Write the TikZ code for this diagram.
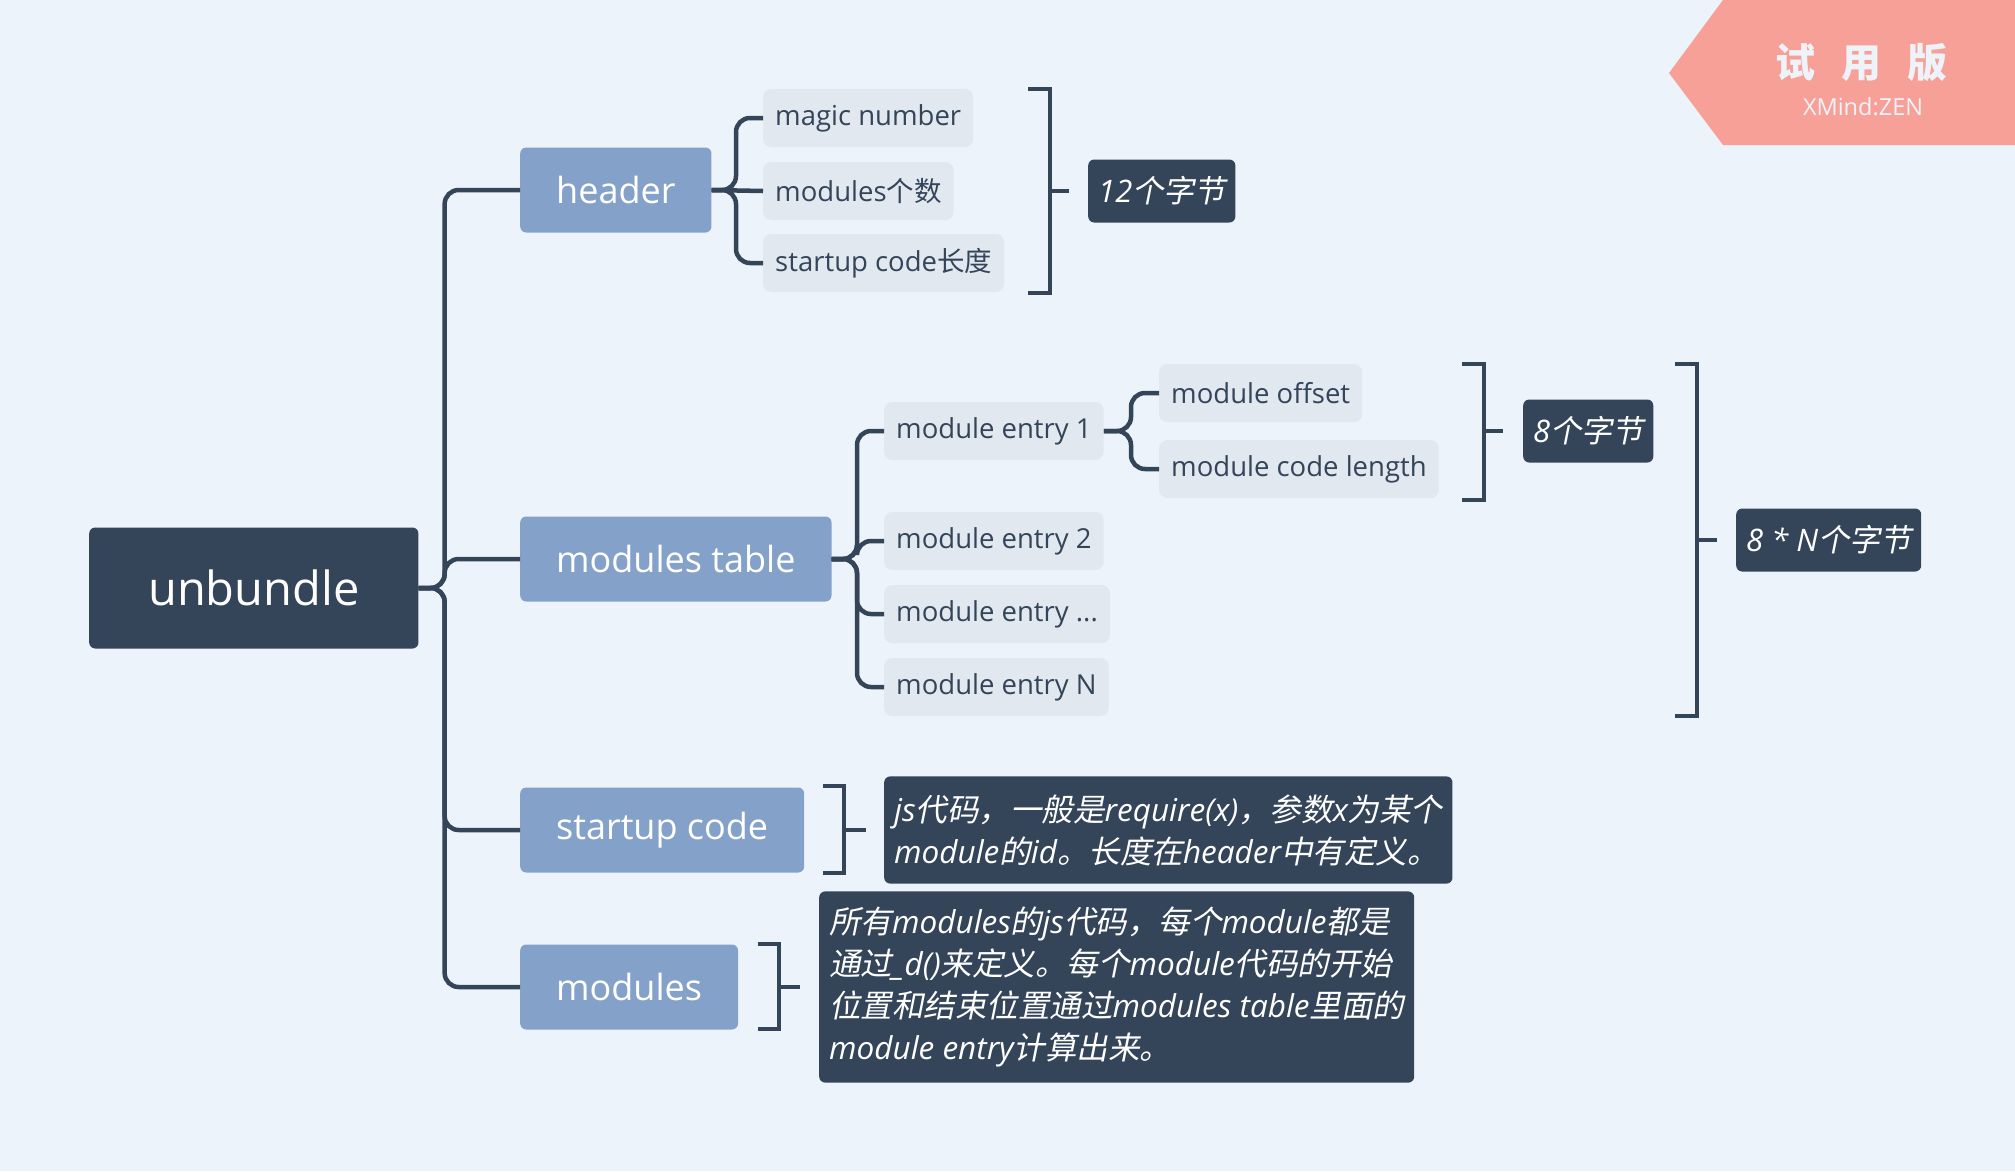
\documentclass[tikz,border=0pt]{standalone}
\usepackage{fontspec}
\setmainfont{Open Sans}
\newfontfamily\zhfont{Noto Sans CJK SC}
\newfontfamily\zhifont[FakeSlant=0.2]{Noto Sans CJK SC}
\newcommand\zh[1]{{\zhfont #1}}
\newcommand\zhi[1]{{\zhifont #1}}
\usetikzlibrary{calc}
\definecolor{bg}{HTML}{EDF3FA}
\definecolor{dk}{HTML}{344459}
\definecolor{bl}{HTML}{84A2C9}
\definecolor{lt}{HTML}{E1E8F0}
\definecolor{wm}{HTML}{F6A097}
\definecolor{wmtext}{HTML}{EEF3FA}
\tikzset{
  rootbox/.style={fill=dk, text=white, rounded corners=6, font=\fontsize{47}{56}\selectfont, inner xsep=59, minimum height=121, anchor=west},
  mainbox/.style={fill=bl, text=white, rounded corners=6, font=\fontsize{36}{44}\selectfont, inner xsep=36, minimum height=85, anchor=west},
  subbox/.style={fill=lt, text=dk, rounded corners=8, font=\fontsize{27.5}{32}\selectfont, inner xsep=12, minimum height=58, anchor=west},
  labbox/.style={fill=dk, text=white, rounded corners=6, font=\itshape\fontsize{31}{36}\selectfont, inner xsep=10, minimum height=63, anchor=west},
  notebox/.style={fill=dk, text=white, rounded corners=6, font=\itshape\fontsize{31.5}{42}\selectfont, inner xsep=10, inner ysep=10, align=left, anchor=west},
  conn/.style={draw=dk, line width=4.5, rounded corners=14},
  brk/.style={draw=dk, line width=4.5},
}
\begin{document}
\begin{tikzpicture}[x=1pt,y=-1pt]
\fill[bg] (0,0) rectangle (2015,1171);
\useasboundingbox (0,0) rectangle (2015,1171);

% watermark
\fill[wm] (1723,0) -- (2015,0) -- (2015,145) -- (1723,145) -- (1669,73) -- cycle;
\node[text=wmtext, font=\zhfont\bfseries\fontsize{40}{44}\selectfont] (wm1) at (1861,63) {试\hspace{26pt}用\hspace{26pt}版};
\node[text=wmtext, font=\fontsize{23.5}{26}\selectfont] (wm2) at (1863,107) {XMind:ZEN};

% nodes
\node[rootbox] (root) at (89,588) {unbundle};
\node[mainbox] (header) at (520,190) {header};
\node[mainbox] (mtable) at (520,559) {modules table};
\node[mainbox] (startup) at (520,830) {startup code};
\node[mainbox] (modules) at (520,987) {modules};

\node[subbox] (magic) at (763,118) {magic number};
\node[subbox] (mcount) at (763,191) {modules\zh{个数}};
\node[subbox] (slen) at (763,263) {startup code\zh{长度}};
\node[labbox] (b12) at (1088,191) {12\zhi{个字节}};

\node[subbox] (me1) at (884,431) {module entry 1};
\node[subbox] (moff) at (1159,393) {module offset};
\node[subbox] (mlen) at (1159,469) {module code length};
\node[labbox] (b8) at (1523,431) {8\zhi{个字节}};
\node[subbox] (me2) at (884,541) {module entry 2};
\node[subbox] (me3) at (884,614) {module entry ...};
\node[subbox] (meN) at (884,687) {module entry N};
\node[labbox] (b8N) at (1736,540) {8 * N\zhi{个字节}};

\node[notebox, inner ysep=18] (note1) at (884,830) {js\zhi{代码，一般是}require(x)\zhi{，参数}x\zhi{为某个}\\module\zhi{的}id\zhi{。长度在}header\zhi{中有定义。}};
\node[notebox, inner ysep=15.5] (note2) at (819,987) {\zhi{所有}modules\zhi{的}js\zhi{代码，每个}module\zhi{都是}\\\zhi{通过}\_d()\zhi{来定义。每个}module\zhi{代码的开始}\\\zhi{位置和结束位置通过}modules table\zhi{里面的}\\module entry\zhi{计算出来。}};

% trunk
\coordinate (tr) at ($(root.east)+(26,0)$);
\draw[conn] (root.east) -- (tr) |- (header.west);
\draw[conn] (root.east) -- (tr) |- (mtable.west);
\draw[conn] (root.east) -- (tr) |- (startup.west);
\draw[conn] (root.east) -- (tr) |- (modules.west);

% header children
\coordinate (hv) at ($(header.east -| magic.west)+(-27,0)$);
\draw[conn] (header.east) -- (hv) |- (magic.west);
\draw[conn] (header.east) -- (mcount.west);
\draw[conn] (header.east) -- (hv) |- (slen.west);

% modules table children
\coordinate (tv) at ($(mtable.east -| me1.west)+(-27,0)$);
\draw[conn] (mtable.east) -- (tv) |- (me1.west);
\draw[conn] (mtable.east) -- (tv) |- (me2.west);
\draw[conn] (mtable.east) -- (tv) |- (me3.west);
\draw[conn] (mtable.east) -- (tv) |- (meN.west);

% module entry 1 children
\coordinate (ev) at ($(me1.east -| moff.west)+(-28,0)$);
\draw[conn] (me1.east) -- (ev) |- (moff.west);
\draw[conn] (me1.east) -- (ev) |- (mlen.west);

% brackets
\draw[brk] (1028,89) -- (1050,89) -- (1050,293) -- (1028,293);
\coordinate (k1) at (1050,191);
\draw[brk, shorten >=19pt] (k1) -- (b12.west);

\draw[brk] (1462,364) -- (1484,364) -- (1484,500) -- (1462,500);
\coordinate (k2) at (1484,431);
\draw[brk, shorten >=20pt] (k2) -- (b8.west);

\draw[brk] (1675,364) -- (1697,364) -- (1697,716) -- (1675,716);
\coordinate (k3) at (1697,540);
\draw[brk, shorten >=19pt] (k3) -- (b8N.west);

\draw[brk] (823,786) -- (844,786) -- (844,873) -- (823,873);
\coordinate (k4) at (844,830);
\draw[brk, shorten >=18pt] (k4) -- (note1.west);

\draw[brk] (758,944) -- (779,944) -- (779,1029) -- (758,1029);
\coordinate (k5) at (779,987);
\draw[brk, shorten >=19pt] (k5) -- (note2.west);
\end{tikzpicture}
\end{document}
